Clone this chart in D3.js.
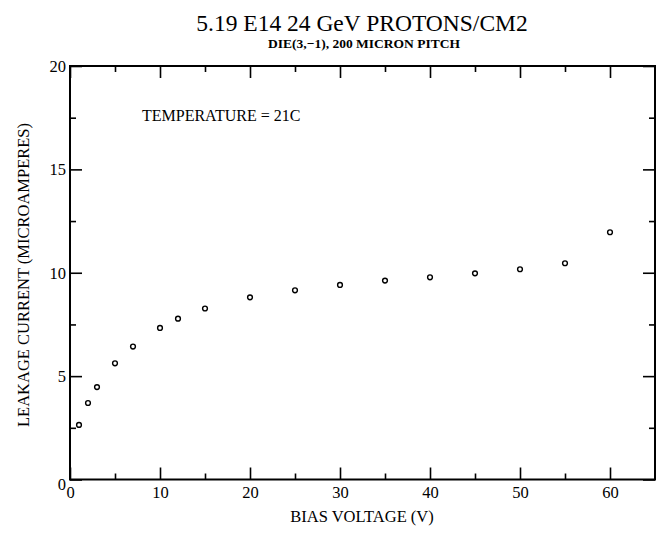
<!DOCTYPE html>
<html lang="en">
    <head>
        <meta charset="utf-8">
        <title>Leakage current</title>
        <script src="https://d3js.org/d3.v7.min.js"></script>
        <style>
            body { margin: 0; background: #fff; }
            svg text { font-family: "Liberation Serif", "Times New Roman", serif; fill: #000; }
        </style>
    </head>
    <body>
        <script type="text/javascript">
            // bias voltage (V) and leakage current (microamperes)
            var voltage = [1, 2, 3, 5, 7, 10, 12, 15, 20, 25, 30, 35, 40, 45, 50, 55, 60];
            var current = [2.64, 3.70, 4.47, 5.62, 6.43, 7.33, 7.78, 8.27, 8.81, 9.15, 9.41, 9.62, 9.78, 9.97, 10.17, 10.46, 11.96];

            var xMajor = [0, 10, 20, 30, 40, 50, 60];
            var xMinor = [5, 15, 25, 35, 45, 55];
            var yMajor = [0, 5, 10, 15, 20];
            var yMinor = [2.5, 7.5, 12.5, 17.5];

            var width = 661, height = 539;
            var plotLeft = 70, plotRight = 655, plotTop = 66, plotBottom = 479.5;

            var svg = d3.select("body")
                .append("svg")
                .attr("width", width)
                .attr("height", height);

            var x = d3.scaleLinear().domain([0, 65]).range([plotLeft, plotRight]);
            var y = d3.scaleLinear().domain([0, 20]).range([plotBottom, plotTop]);

            function addAxis(axis, tx, ty, cls) {
                var g = svg.append("g")
                    .attr("class", cls)
                    .attr("transform", "translate(" + tx + "," + ty + ")")
                    .call(axis);
                g.select(".domain").remove();
                g.selectAll(".tick line").attr("stroke", "#000").attr("stroke-width", 1.6);
                g.selectAll(".tick text").attr("font-size", 16.5);
                return g;
            }

            // major ticks with labels (bottom, left), inward
            addAxis(d3.axisBottom(x).tickValues(xMajor).tickSize(-12).tickPadding(7).tickFormat(d3.format("d")), 0, plotBottom, "x-major");
            addAxis(d3.axisLeft(y).tickValues(yMajor).tickSize(-12).tickPadding(4).tickFormat(d3.format("d")), plotLeft, 0, "y-major");
            // minor ticks
            addAxis(d3.axisBottom(x).tickValues(xMinor).tickSize(-6).tickFormat(""), 0, plotBottom, "x-minor");
            addAxis(d3.axisLeft(y).tickValues(yMinor).tickSize(-6).tickFormat(""), plotLeft, 0, "y-minor");
            // mirrored ticks on top and right
            addAxis(d3.axisTop(x).tickValues(xMajor).tickSize(-12).tickFormat(""), 0, plotTop, "x-top");
            addAxis(d3.axisTop(x).tickValues(xMinor).tickSize(-6).tickFormat(""), 0, plotTop, "x-top-minor");
            addAxis(d3.axisRight(y).tickValues(yMajor).tickSize(-12).tickFormat(""), plotRight, 0, "y-right");
            addAxis(d3.axisRight(y).tickValues(yMinor).tickSize(-6).tickFormat(""), plotRight, 0, "y-right-minor");

            // the y "0" sits a little low in the original
            svg.selectAll(".y-major .tick text").filter(function (d) { return d === 0; }).attr("dy", "0.62em");

            // frame
            svg.append("rect")
                .attr("x", plotLeft)
                .attr("y", plotTop)
                .attr("width", plotRight - plotLeft)
                .attr("height", plotBottom - plotTop)
                .attr("fill", "none")
                .attr("stroke", "#000")
                .attr("stroke-width", 2);

            // data points
            svg.selectAll("circle.pt")
                .data(voltage)
                .enter()
                .append("circle")
                .attr("class", "pt")
                .attr("cx", function (d) { return x(d); })
                .attr("cy", function (d, i) { return y(current[i]); })
                .attr("r", 2.4)
                .attr("fill", "none")
                .attr("stroke", "#000")
                .attr("stroke-width", 1.4);

            // titles and labels
            svg.append("text")
                .attr("x", 362)
                .attr("y", 31)
                .attr("text-anchor", "middle")
                .attr("font-size", 23.5)
                .text("5.19 E14 24 GeV PROTONS/CM2");

            svg.append("text")
                .attr("x", 364)
                .attr("y", 48)
                .attr("text-anchor", "middle")
                .attr("font-size", 13.5)
                .attr("font-weight", "bold")
                .text("DIE(3,\u22121), 200 MICRON PITCH");

            svg.append("text")
                .attr("x", 142)
                .attr("y", 121)
                .attr("font-size", 16)
                .text("TEMPERATURE = 21C");

            svg.append("text")
                .attr("x", 362)
                .attr("y", 522)
                .attr("text-anchor", "middle")
                .attr("font-size", 16.5)
                .text("BIAS VOLTAGE (V)");

            svg.append("text")
                .attr("transform", "translate(29,275) rotate(-90)")
                .attr("text-anchor", "middle")
                .attr("font-size", 16.5)
                .text("LEAKAGE CURRENT (MICROAMPERES)");
        </script>
    </body>
</html>
